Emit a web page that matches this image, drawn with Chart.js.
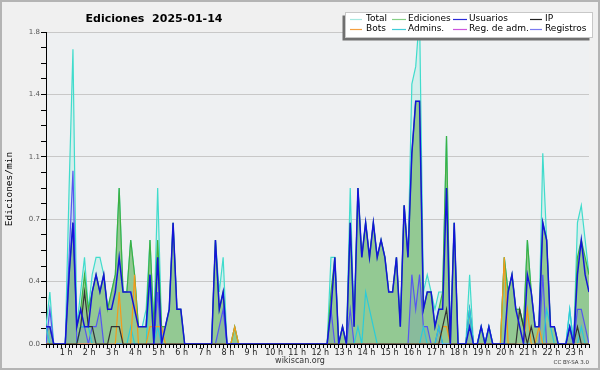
<!DOCTYPE html>
<html>
<head>
<meta charset="utf-8">
<script src="https://cdn.jsdelivr.net/npm/chart.js@4.4.1/dist/chart.umd.min.js"></script>
<style>
  html, body { margin: 0; padding: 0; background: #f0f0f0; }
  canvas { display: block; }
</style>
</head>
<body>
<canvas id="chart" width="600" height="370"></canvas>
<script>
// Edits per minute, one value per 10-minute bucket from 00:00 to 23:30
const total = [
  0.1, 0.3, 0, 0, 0, 0, 0.9, 1.7, 0.1, 0.3, 0.5, 0.2,
  0.4, 0.5, 0.5, 0.4, 0.2, 0.3, 0.4, 0.9, 0.3, 0.3, 0.6, 0.4,
  0.1, 0.1, 0.2, 0.6, 0.1, 0.9, 0.1, 0.1, 0.2, 0.7, 0.2, 0.2,
  0, 0, 0, 0, 0, 0, 0, 0, 0.6, 0.3, 0.5, 0,
  0, 0.1, 0, 0, 0, 0, 0, 0, 0, 0, 0, 0,
  0, 0, 0, 0, 0, 0, 0, 0, 0, 0, 0, 0,
  0, 0, 0.5, 0.5, 0, 0.1, 0, 0.9, 0.1, 0.9, 0.5, 0.7,
  0.5, 0.7, 0.5, 0.6, 0.5, 0.3, 0.3, 0.5, 0.1, 0.8, 0.5, 1.5,
  1.6, 1.9, 0.3, 0.4, 0.3, 0.2, 0.3, 0.3, 1.2, 0, 0.7, 0,
  0, 0, 0.4, 0, 0, 0.1, 0, 0.1, 0, 0, 0, 0.5,
  0.3, 0.4, 0.2, 0.2, 0.1, 0.6, 0.3, 0.1, 0.1, 1.1, 0.6, 0.1,
  0.1, 0, 0, 0, 0.2, 0, 0.7, 0.8, 0.6, 0.4
];
const ediciones = [
  0.1, 0.1, 0, 0, 0, 0, 0.4, 0.7, 0.1, 0.2, 0.4, 0.2,
  0.3, 0.4, 0.3, 0.4, 0.2, 0.3, 0.4, 0.9, 0.3, 0.3, 0.6, 0.4,
  0.1, 0.1, 0.1, 0.6, 0.1, 0.6, 0.1, 0.1, 0.2, 0.7, 0.2, 0.2,
  0, 0, 0, 0, 0, 0, 0, 0, 0.6, 0.2, 0.3, 0,
  0, 0.1, 0, 0, 0, 0, 0, 0, 0, 0, 0, 0,
  0, 0, 0, 0, 0, 0, 0, 0, 0, 0, 0, 0,
  0, 0, 0.3, 0.5, 0, 0.1, 0, 0.7, 0.1, 0.9, 0.5, 0.7,
  0.5, 0.7, 0.5, 0.6, 0.5, 0.3, 0.3, 0.5, 0.1, 0.8, 0.5, 1.1,
  1.4, 1.4, 0.2, 0.3, 0.3, 0.1, 0.2, 0.3, 1.2, 0, 0.7, 0,
  0, 0, 0.2, 0, 0, 0.1, 0, 0.1, 0, 0, 0, 0.5,
  0.3, 0.4, 0.2, 0.2, 0.1, 0.6, 0.3, 0.1, 0.1, 0.7, 0.6, 0.1,
  0.1, 0, 0, 0, 0.1, 0, 0.5, 0.6, 0.5, 0.4
];
const usuarios = [
  0.1, 0.1, 0, 0, 0, 0, 0.4, 0.7, 0.1, 0.2, 0.1, 0.1,
  0.3, 0.4, 0.3, 0.4, 0.2, 0.2, 0.3, 0.5, 0.3, 0.3, 0.3, 0.2,
  0.1, 0.1, 0.1, 0.4, 0, 0.5, 0, 0.1, 0.2, 0.7, 0.2, 0.2,
  0, 0, 0, 0, 0, 0, 0, 0, 0.6, 0.2, 0.3, 0,
  0, 0, 0, 0, 0, 0, 0, 0, 0, 0, 0, 0,
  0, 0, 0, 0, 0, 0, 0, 0, 0, 0, 0, 0,
  0, 0, 0.2, 0.5, 0, 0.1, 0, 0.7, 0.1, 0.9, 0.5, 0.7,
  0.5, 0.7, 0.5, 0.6, 0.5, 0.3, 0.3, 0.5, 0.1, 0.8, 0.5, 1.1,
  1.4, 1.4, 0.2, 0.3, 0.3, 0.1, 0.2, 0.2, 0.9, 0, 0.7, 0,
  0, 0, 0.1, 0, 0, 0.1, 0, 0.1, 0, 0, 0, 0,
  0.3, 0.4, 0.2, 0.1, 0, 0.4, 0.3, 0.1, 0.1, 0.7, 0.6, 0.1,
  0.1, 0, 0, 0, 0.1, 0, 0.4, 0.6, 0.4, 0.3
];
const ip = [
  0, 0, 0, 0, 0, 0, 0, 0, 0, 0.1, 0.3, 0.1,
  0.1, 0, 0, 0, 0, 0.1, 0.1, 0.1, 0, 0, 0, 0,
  0, 0, 0, 0, 0, 0, 0, 0, 0, 0, 0, 0,
  0, 0, 0, 0, 0, 0, 0, 0, 0, 0, 0, 0,
  0, 0, 0, 0, 0, 0, 0, 0, 0, 0, 0, 0,
  0, 0, 0, 0, 0, 0, 0, 0, 0, 0, 0, 0,
  0, 0, 0, 0, 0, 0, 0, 0, 0, 0, 0, 0,
  0, 0, 0, 0, 0, 0, 0, 0, 0, 0, 0, 0,
  0, 0, 0, 0, 0, 0, 0, 0.1, 0.2, 0, 0, 0,
  0, 0, 0, 0, 0, 0, 0, 0, 0, 0, 0, 0,
  0, 0, 0, 0.2, 0.1, 0, 0.1, 0, 0, 0, 0, 0,
  0, 0, 0, 0, 0, 0, 0.1, 0, 0, 0
];
const bots = [
  0, 0, 0, 0, 0, 0, 0, 0, 0, 0, 0, 0,
  0, 0, 0, 0, 0, 0, 0, 0.3, 0, 0, 0, 0.4,
  0, 0, 0, 0.1, 0.1, 0.1, 0.1, 0, 0, 0, 0, 0,
  0, 0, 0, 0, 0, 0, 0, 0, 0, 0, 0, 0,
  0, 0.1, 0, 0, 0, 0, 0, 0, 0, 0, 0, 0,
  0, 0, 0, 0, 0, 0, 0, 0, 0, 0, 0, 0,
  0, 0, 0, 0, 0, 0, 0, 0, 0, 0, 0, 0,
  0, 0, 0, 0, 0, 0, 0, 0, 0, 0, 0, 0,
  0, 0, 0, 0, 0, 0, 0, 0.1, 0.1, 0, 0, 0,
  0, 0, 0, 0, 0, 0, 0, 0, 0, 0, 0, 0.5,
  0, 0, 0, 0, 0, 0.2, 0, 0, 0.1, 0, 0, 0,
  0, 0, 0, 0, 0, 0, 0, 0, 0, 0
];
const admins = [
  0.1, 0, 0, 0, 0, 0, 0, 0, 0, 0.1, 0.1, 0.1,
  0, 0, 0, 0, 0, 0, 0, 0, 0, 0, 0.1, 0,
  0, 0, 0, 0.4, 0, 0.1, 0, 0, 0, 0, 0, 0,
  0, 0, 0, 0, 0, 0, 0, 0, 0, 0, 0, 0,
  0, 0, 0, 0, 0, 0, 0, 0, 0, 0, 0, 0,
  0, 0, 0, 0, 0, 0, 0, 0, 0, 0, 0, 0,
  0, 0, 0, 0, 0, 0, 0, 0, 0, 0.1, 0, 0.3,
  0.2, 0.1, 0, 0, 0, 0, 0, 0, 0, 0, 0, 0,
  0, 0, 0.1, 0, 0, 0, 0.1, 0, 0, 0, 0, 0,
  0, 0, 0.2, 0, 0, 0.1, 0, 0.1, 0, 0, 0, 0,
  0, 0, 0, 0, 0, 0, 0, 0, 0, 0, 0.2, 0.1,
  0, 0, 0, 0, 0.2, 0, 0, 0.1, 0, 0
];
const regAdm = [
  0, 0, 0, 0, 0, 0, 0, 0, 0, 0, 0, 0,
  0, 0, 0, 0, 0, 0, 0, 0, 0, 0, 0, 0,
  0, 0, 0, 0, 0, 0, 0, 0, 0, 0, 0, 0,
  0, 0, 0, 0, 0, 0, 0, 0, 0, 0, 0, 0,
  0, 0, 0, 0, 0, 0, 0, 0, 0, 0, 0, 0,
  0, 0, 0, 0, 0, 0, 0, 0, 0, 0, 0, 0,
  0, 0, 0, 0, 0, 0, 0, 0, 0, 0, 0, 0,
  0, 0, 0, 0, 0, 0, 0, 0, 0, 0, 0, 0,
  0, 0, 0, 0, 0, 0, 0, 0, 0, 0, 0, 0,
  0, 0, 0, 0, 0, 0, 0, 0, 0, 0, 0, 0,
  0, 0, 0, 0, 0, 0, 0, 0, 0, 0, 0, 0,
  0, 0, 0, 0, 0, 0, 0, 0, 0, 0
];
const registros = [
  0, 0.2, 0, 0, 0, 0, 0.5, 1.0, 0, 0.1, 0.1, 0,
  0.1, 0.1, 0.2, 0, 0, 0, 0, 0, 0, 0, 0, 0,
  0, 0, 0, 0, 0, 0.3, 0, 0, 0, 0, 0, 0,
  0, 0, 0, 0, 0, 0, 0, 0, 0, 0.1, 0.2, 0,
  0, 0, 0, 0, 0, 0, 0, 0, 0, 0, 0, 0,
  0, 0, 0, 0, 0, 0, 0, 0, 0, 0, 0, 0,
  0, 0, 0.2, 0, 0, 0, 0, 0.2, 0, 0, 0, 0,
  0, 0, 0, 0, 0, 0, 0, 0, 0, 0, 0, 0.4,
  0.2, 0.4, 0.1, 0.1, 0, 0, 0.1, 0, 0, 0, 0, 0,
  0, 0, 0.2, 0, 0, 0, 0, 0, 0, 0, 0, 0,
  0, 0, 0, 0, 0, 0, 0, 0, 0, 0.4, 0, 0,
  0, 0, 0, 0, 0.1, 0, 0.2, 0.2, 0.1, 0
];

const hourLabels = ['1 h', '2 h', '3 h', '4 h', '5 h', '6 h', '7 h', '8 h', '9 h', '10 h', '11 h', '12 h',
  '13 h', '14 h', '15 h', '16 h', '17 h', '18 h', '19 h', '20 h', '21 h', '22 h', '23 h'];
const yMajor = [0, 0.36, 0.72, 1.08, 1.44, 1.8];
const yTickLabels = ['0.0', '0.4', '0.7', '1.1', '1.4', '1.8'];

// x positions in minutes after midnight
const times = total.map((_, i) => i * 10);

// minor y ticks: four steps between each labelled tick
const yTicks = [];
yMajor.forEach((v, i) => {
  yTicks.push(v);
  if (i < yMajor.length - 1) {
    const step = (yMajor[i + 1] - v) / 4;
    for (let k = 1; k < 4; k++) yTicks.push(v + step * k);
  }
});

// legend swatches are lighter than the plotted lines
const legendColors = ['#a6e8e0', '#86d086', '#2a2ad8', '#222222', '#f5a040', '#40ccd8', '#cc55dd', '#7a7af0'];

const backdrop = {
  id: 'backdrop',
  beforeDraw(chart) {
    const { ctx, chartArea: a, width, height } = chart;
    ctx.save();
    ctx.fillStyle = '#f0f0f0';
    ctx.fillRect(0, 0, width, height);
    ctx.fillStyle = '#eef0f2';
    ctx.fillRect(a.left, a.top, a.right - a.left, a.bottom - a.top);
    ctx.strokeStyle = '#b4b4b4';
    ctx.lineWidth = 2;
    ctx.strokeRect(1, 1, width - 2, height - 2);
    ctx.restore();
  }
};

// title, axis title, footer and the boxed legend
const decorations = {
  id: 'decorations',
  afterDraw(chart) {
    const { ctx } = chart;
    ctx.save();

    ctx.fillStyle = '#000';
    ctx.font = 'bold 11px "DejaVu Sans"';
    ctx.textAlign = 'center';
    ctx.textBaseline = 'alphabetic';
    ctx.fillText('Ediciones  2025-01-14', 154, 21.5);

    ctx.save();
    ctx.translate(10, 189);
    ctx.rotate(-Math.PI / 2);
    ctx.font = '9.5px "DejaVu Sans Mono"';
    ctx.textBaseline = 'middle';
    ctx.fillText('Ediciones/min', 0, 0);
    ctx.restore();

    ctx.fillStyle = '#333';
    ctx.font = '8px "DejaVu Sans"';
    ctx.fillText('wikiscan.org', 300, 363);
    ctx.textAlign = 'right';
    ctx.font = '5.5px "DejaVu Sans"';
    ctx.fillText('CC BY-SA 3.0', 589, 364);

    // legend box with its shadow
    ctx.fillStyle = '#707070';
    ctx.fillRect(342.5, 15.5, 247, 25);
    ctx.fillStyle = '#fff';
    ctx.fillRect(345.5, 12.5, 247, 25);
    ctx.strokeStyle = '#c8c8c8';
    ctx.lineWidth = 1;
    ctx.strokeRect(345.5, 12.5, 247, 25);

    const cols = [[350, 362, 366], [392, 406, 408], [453, 467, 469], [530, 542, 545]];
    const rows = [19, 29];
    ctx.font = '9px "DejaVu Sans"';
    ctx.textAlign = 'left';
    ctx.textBaseline = 'middle';
    chart.data.datasets.forEach((ds, i) => {
      const [x0, x1, tx] = cols[i % 4];
      const y = rows[Math.floor(i / 4)];
      ctx.strokeStyle = legendColors[i];
      ctx.lineWidth = 1.2;
      ctx.beginPath();
      ctx.moveTo(x0, y + 0.5);
      ctx.lineTo(x1, y + 0.5);
      ctx.stroke();
      ctx.fillStyle = '#000';
      ctx.fillText(ds.label, tx, y);
    });
    ctx.restore();
  }
};

const ctx = document.getElementById('chart');
new Chart(ctx, {
  type: 'line',
  data: {
    labels: times,
    datasets: [
      { label: 'Total', data: total, borderColor: '#40dccc', backgroundColor: 'rgba(64,224,208,0.14)', fill: 'origin', order: 9 },
      { label: 'Ediciones', data: ediciones, borderColor: '#3cb043', backgroundColor: '#93c993', fill: 'origin', order: 8 },
      { label: 'Usuarios', data: usuarios, borderColor: '#1414d8', borderWidth: 1.5, order: 1 },
      { label: 'IP', data: ip, borderColor: '#333333', order: 3 },
      { label: 'Bots', data: bots, borderColor: '#f59a1a', order: 4 },
      { label: 'Admins.', data: admins, borderColor: '#2ccbd8', order: 5 },
      { label: 'Reg. de adm.', data: regAdm, borderColor: '#d046e0', order: 6 },
      { label: 'Registros', data: registros, borderColor: '#5656f0', backgroundColor: 'rgba(70,90,220,0.13)', fill: 'origin', order: 7 }
    ]
  },
  options: {
    responsive: false,
    animation: false,
    layout: { padding: { left: 0, right: 11, top: 32, bottom: 0 } },
    elements: {
      point: { radius: 0 },
      line: { tension: 0, borderWidth: 1.2 }
    },
    plugins: {
      legend: { display: false },
      title: { display: false },
      tooltip: { enabled: false }
    },
    scales: {
      x: {
        type: 'linear',
        min: 0,
        max: 1410,
        z: 1,
        afterFit: (scale) => { scale.height = 26; },
        grid: { drawOnChartArea: false, tickLength: 4, tickColor: '#000' },
        border: { color: '#000' },
        ticks: {
          stepSize: 10,
          autoSkip: false,
          maxRotation: 0,
          padding: 0,
          labelOffset: -3,
          color: '#222',
          font: { family: 'DejaVu Sans', size: 8 },
          callback: (v) => (v % 60 === 0 && v > 0 ? hourLabels[v / 60 - 1] : '')
        }
      },
      y: {
        min: 0,
        max: 1.8,
        afterFit: (scale) => { scale.width = 46; },
        afterBuildTicks: (scale) => { scale.ticks = yTicks.map((v) => ({ value: v })); },
        grid: {
          color: (c) => (c.index % 4 === 0 ? '#c8c8c8' : 'rgba(0,0,0,0)'),
          tickColor: '#000',
          tickLength: 5
        },
        border: { color: '#000' },
        ticks: {
          padding: 1,
          color: '#555',
          font: { family: 'DejaVu Sans', size: 7 },
          callback: (v, i) => (i % 4 === 0 ? yTickLabels[i / 4] : '')
        }
      }
    }
  },
  plugins: [backdrop, decorations]
});
</script>
</body>
</html>
